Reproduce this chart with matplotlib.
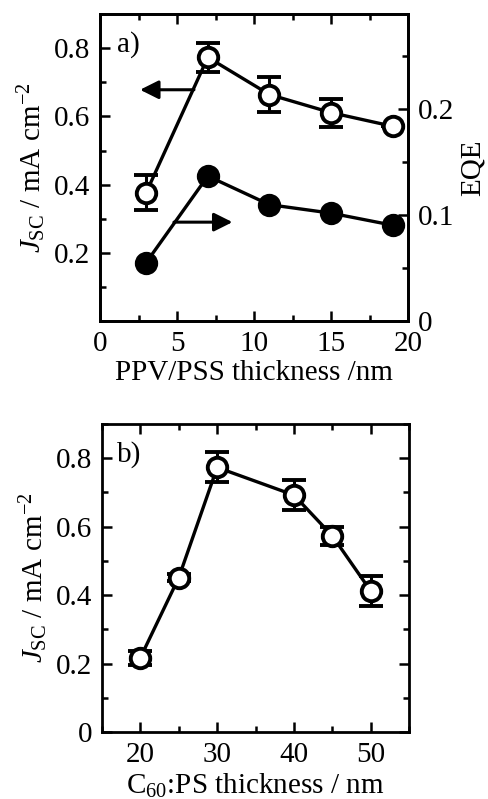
import numpy as np
import matplotlib
matplotlib.use('Agg')
import matplotlib.pyplot as plt
from matplotlib.ticker import MultipleLocator

plt.rcParams['font.family'] = ['Liberation Serif', 'DejaVu Serif']
plt.rcParams['mathtext.fontset'] = 'custom'
plt.rcParams['mathtext.rm'] = 'Liberation Serif'
plt.rcParams['mathtext.it'] = 'Liberation Serif:italic'
plt.rcParams['font.size'] = 21

## panel a data
ppv_thick = [3, 7, 11, 15, 19]
jsc_a = [0.377, 0.773, 0.664, 0.611, 0.571]
jsc_a_err = [0.05, 0.042, 0.05, 0.041, 0.0]
eqe_a = [0.0554, 0.137, 0.110, 0.102, 0.0906]

## panel b data
c60_thick = [20, 25, 30, 40, 45, 50]
jsc_b = [0.217, 0.451, 0.773, 0.692, 0.573, 0.412]
jsc_b_err = [0.021, 0.01, 0.044, 0.043, 0.027, 0.043]

ylab = r'$J_{\rm SC}$ / mA cm$^{-2}$'

fig = plt.figure(figsize=(4.89, 7.99), dpi=100)
ax1 = fig.add_axes([0.2045, 0.598, 0.630, 0.3845])
ax2 = fig.add_axes([0.2086, 0.0839, 0.628, 0.3855])

def style(ax, right=True):
    for s in ax.spines.values():
        s.set_linewidth(2.0)
    ax.tick_params(which='both', direction='in', top=True, right=right, width=1.8)
    ax.tick_params(which='major', length=7, pad=7)
    ax.tick_params(which='minor', length=4)

mk = dict(marker='o', ms=14, mew=2.8, color='k', lw=2.4)

# top panel
ax1.errorbar(ppv_thick, jsc_a, yerr=jsc_a_err, mfc='white', mec='k', capsize=8.5,
             elinewidth=2.2, capthick=2.4, zorder=3, **mk)
ax1.set_ylim(0, 0.9)
ax1.set_yticks([0.2, 0.4, 0.6, 0.8])
ax1.set_yticklabels(['0.2', '0.4', '0.6', '0.8'])
ax1.yaxis.set_minor_locator(MultipleLocator(0.1))
ax1.set_xlabel('PPV/PSS thickness /nm', labelpad=2)
ax1.set_ylabel(ylab, labelpad=4)
ax1.text(1.1, 0.79, 'a)')
ax1.annotate('', xy=(2.6, 0.678), xytext=(6.1, 0.678),
             arrowprops=dict(arrowstyle='-|>', lw=2.2, color='k',
                             mutation_scale=28, shrinkA=0, shrinkB=0))
style(ax1, right=False)

ax1r = ax1.twinx()
ax1r.plot(ppv_thick, eqe_a, mfc='k', mec='k', zorder=3, **mk)
ax1r.set_ylim(0, 0.29)
ax1r.set_yticks([0, 0.1, 0.2])
ax1r.set_yticklabels(['0', '0.1', '0.2'])
ax1r.yaxis.set_minor_locator(MultipleLocator(0.05))
ax1r.set_ylabel('EQE', labelpad=4)
ax1r.tick_params(which='both', direction='in', width=1.8)
ax1r.tick_params(which='major', length=7, pad=7)
ax1r.tick_params(which='minor', length=4)
for s in ax1r.spines.values():
    s.set_linewidth(2.0)
ax1r.annotate('', xy=(8.6, 0.0935), xytext=(4.8, 0.0935),
              arrowprops=dict(arrowstyle='-|>', lw=2.2, color='k',
                              mutation_scale=28, shrinkA=0, shrinkB=0))
ax1.set_xlim(0, 20)
ax1.set_xticks([0, 5, 10, 15, 20])
ax1.xaxis.set_minor_locator(MultipleLocator(2.5))

# bottom panel
ax2.errorbar(c60_thick, jsc_b, yerr=jsc_b_err, mfc='white', mec='k', capsize=8.5,
             elinewidth=2.2, capthick=2.4, zorder=3, **mk)
ax2.set_xlim(15, 55)
ax2.set_ylim(0, 0.9)
ax2.set_xticks([20, 30, 40, 50])
ax2.xaxis.set_minor_locator(MultipleLocator(5))
ax2.set_yticks([0, 0.2, 0.4, 0.6, 0.8])
ax2.set_yticklabels(['0', '0.2', '0.4', '0.6', '0.8'])
ax2.yaxis.set_minor_locator(MultipleLocator(0.1))
ax2.set_xlabel(r'C$_{60}$:PS thickness / nm', labelpad=3)
ax2.set_ylabel(ylab, labelpad=4)
ax2.text(17.0, 0.79, 'b)')
style(ax2)

fig.savefig('out.png', dpi=100)
